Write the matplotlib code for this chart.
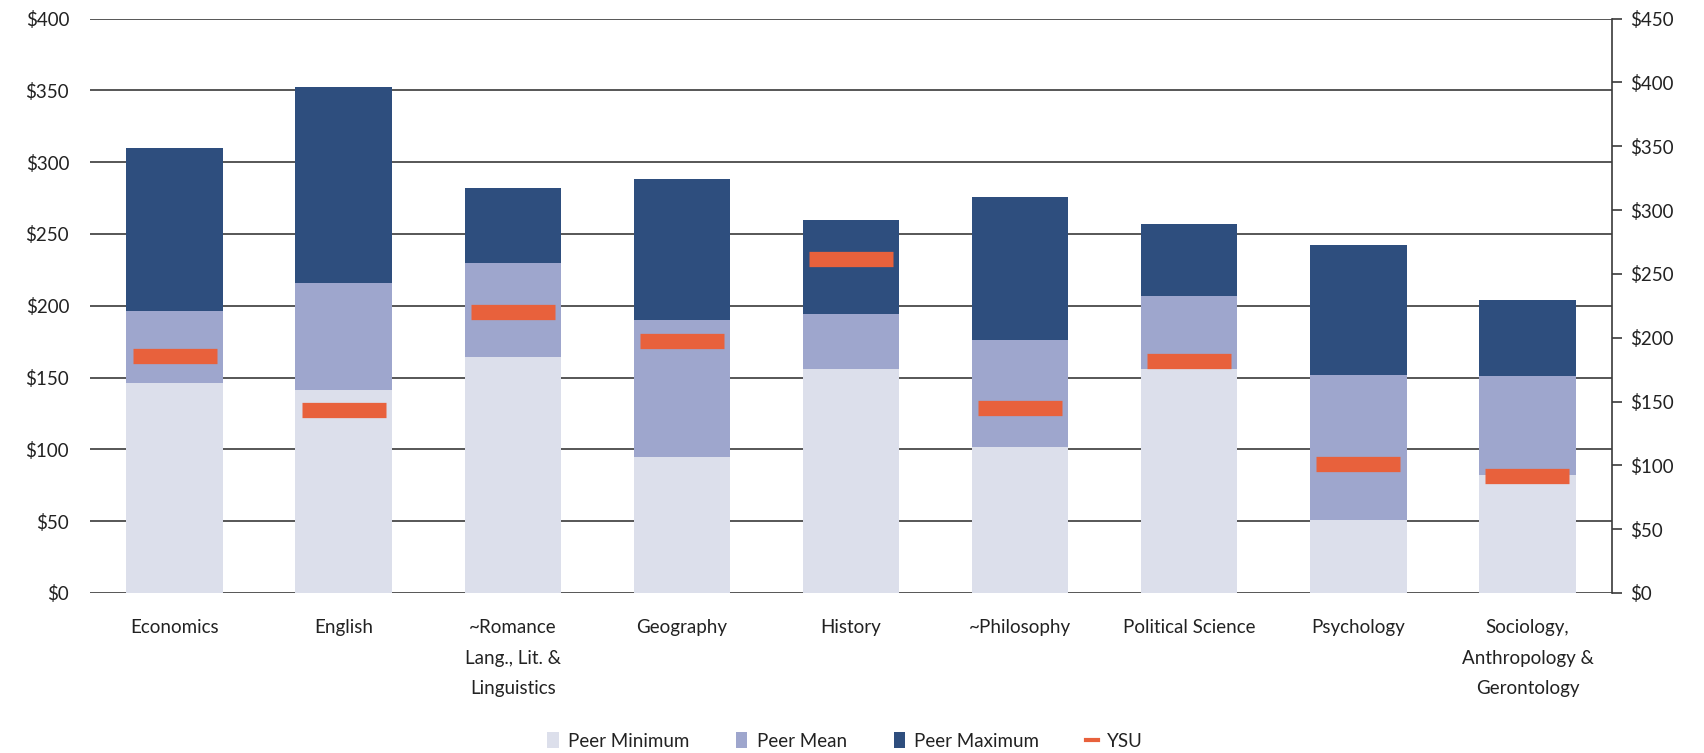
import matplotlib
matplotlib.use("Agg")
import matplotlib.pyplot as plt
from matplotlib.lines import Line2D
from matplotlib.patches import Patch
import numpy as np

categories = ["Economics", "English", "~Romance\nLang., Lit. &\nLinguistics", "Geography",
              "History", "~Philosophy", "Political Science", "Psychology",
              "Sociology,\nAnthropology &\nGerontology"]
peer_min = [146, 141, 164, 95, 156, 102, 156, 51, 82]
peer_mean = [196, 216, 230, 190, 194, 176, 207, 152, 151]
peer_max = [310, 352, 282, 288, 260, 276, 257, 242, 204]
# YSU plotted on the secondary (right) axis, in its units
ysu = [186, 143, 220, 197, 262, 145, 182, 101, 92]

left_ticks = [0, 50, 100, 150, 200, 250, 300, 350, 400]
left_labels = ["$0", "$50", "$100", "$150", "$200", "$250", "$300", "$350", "$400"]
right_ticks = [0, 50, 100, 150, 200, 250, 300, 350, 400, 450]
right_labels = ["$0", "$50", "$100", "$150", "$200", "$250", "$300", "$350", "$400", "$450"]

c_min = "#dcdfeb"
c_mean = "#9ea6cd"
c_max = "#2e4e7e"
c_ysu = "#e8613c"
txt = "#222222"
grid = "#3a3a3a"
fs = 13.5

plt.rcParams['font.family'] = ['Lato', 'DejaVu Sans']
W, H = 1704, 753
fig = plt.figure(figsize=(W / 100, H / 100), dpi=100)
x0, x1, ytop, ybot = 90, 1612, 18.5, 593
ax = fig.add_axes([x0 / W, 1 - ybot / H, (x1 - x0) / W, (ybot - ytop) / H])

x = np.arange(len(categories))
bw = 0.57
ax.bar(x, peer_max, width=bw, color=c_max, zorder=2, label="Peer Maximum")
ax.bar(x, peer_mean, width=bw, color=c_mean, zorder=3, label="Peer Mean")
ax.bar(x, peer_min, width=bw, color=c_min, zorder=4, label="Peer Minimum")

ax.set_xlim(-0.5, len(categories) - 0.5)
ax.set_ylim(0, 400)
ax.set_yticks(left_ticks)
ax.set_yticklabels(left_labels)
ax.yaxis.grid(True, color=grid, linewidth=1.2, zorder=0)
ax.set_axisbelow(True)
for s in ["left", "top", "right", "bottom"]:
    ax.spines[s].set_visible(False)
ax.tick_params(axis="y", length=0, pad=15, labelsize=fs, labelcolor=txt)
ax.set_xticks(x)
ax.set_xticklabels(categories, linespacing=1.95)
ax.tick_params(axis="x", length=0, pad=19, labelsize=fs, labelcolor=txt)

ax2 = ax.twinx()
ax2.set_ylim(0, 450)
ax2.set_yticks(right_ticks)
ax2.set_yticklabels(right_labels)
for s in ["left", "top", "bottom"]:
    ax2.spines[s].set_visible(False)
ax2.spines["right"].set_color(grid)
ax2.spines["right"].set_linewidth(1.2)
ax2.tick_params(axis="y", length=7, width=1.2, color=grid, pad=6, labelsize=fs, labelcolor=txt)
ax2.plot(x, ysu, linestyle="none", marker="_", markersize=60, markeredgewidth=11,
         color=c_ysu, zorder=5)

handles = [Patch(facecolor=c_min), Patch(facecolor=c_mean), Patch(facecolor=c_max),
           Line2D([0], [0], color=c_ysu, linewidth=3)]
labels = ["Peer Minimum", "Peer Mean", "Peer Maximum", "YSU"]
fig.legend(handles, labels, loc="center", ncol=4, frameon=False,
           bbox_to_anchor=(845 / W, 1 - 741 / H), fontsize=fs,
           handlelength=0.6, handleheight=0.9, handletextpad=0.5, columnspacing=2.5,
           labelcolor=txt)

fig.savefig("out.png", dpi=100)
